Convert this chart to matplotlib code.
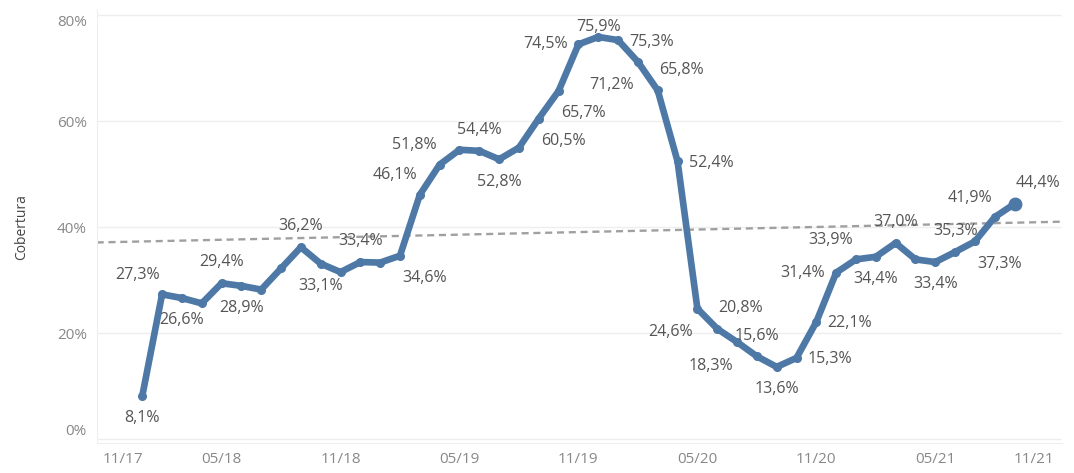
import numpy as np
import matplotlib
matplotlib.use("Agg")
import matplotlib.pyplot as plt

plt.rcParams['font.family'] = ['Open Sans', 'DejaVu Sans']

# monthly coverage, Jan 2018 .. Sep 2021
months = ['01/18', '02/18', '03/18', '04/18', '05/18', '06/18', '07/18', '08/18', '09/18', '10/18', '11/18', '12/18',
          '01/19', '02/19', '03/19', '04/19', '05/19', '06/19', '07/19', '08/19', '09/19', '10/19', '11/19', '12/19',
          '01/20', '02/20', '03/20', '04/20', '05/20', '06/20', '07/20', '08/20', '09/20', '10/20', '11/20', '12/20',
          '01/21', '02/21', '03/21', '04/21', '05/21', '06/21', '07/21', '08/21', '09/21']
cobertura = [8.1, 27.3, 26.6, 25.6, 29.4, 28.9, 28.2, 32.2, 36.2, 33.1, 31.5, 33.4,
             33.3, 34.6, 46.1, 51.8, 54.6, 54.4, 52.8, 55.0, 60.5, 65.7, 74.5, 75.9,
             75.3, 71.2, 65.8, 52.4, 24.6, 20.8, 18.3, 15.6, 13.6, 15.3, 22.1, 31.4,
             33.9, 34.4, 37.0, 33.9, 33.4, 35.3, 37.3, 41.9, 44.4]
tick_labels = ['11/17', '05/18', '11/18', '05/19', '11/19', '05/20', '11/20', '05/21', '11/21']

# where each value label sits ('' = no label)
label_pos = ['b', 'al', 'b', '', 'a', 'b', '', '', 'a', 'b', '', 'a',
             '', 'br', 'al', 'al', '', 'a', 'b', '', 'br', 'br', 'l', 'top',
             'r', 'bl', 'ar', 'r', 'bl', 'ar', 'bl', 'a', 'b', 'r', 'r', 'l',
             'al', 'b', 'a', '', 'b', 'a', 'br', 'al', 'ar']
offsets = {'a': (0, 15), 'b': (0, -16), 'l': (-24, 0), 'r': (24, -1),
           'al': (-18, 14), 'ar': (17, 15), 'bl': (-19, -17), 'br': (18, -16),
           'top': (0, 7)}

x = np.arange(len(cobertura)) + 2   # 0 = Nov 2017
y = np.array(cobertura)

fig = plt.figure(figsize=(10.74, 4.73), dpi=100)
ax = fig.add_axes([0.090, 0.063, 0.899, 0.916])

xlim = (-0.3, 48.4)
ax.set_xlim(*xlim)
ax.set_ylim(-0.8, 81)

# trend line
k, b = np.polyfit(x, y, 1)
tx = np.array(xlim)
ax.plot(tx, k * tx + b, ls=(0, (3, 2)), color='#a0a0a0', lw=1.7, zorder=2)

blue = '#4e79a7'
ax.plot(x, y, color=blue, lw=4.8, solid_joinstyle='round', solid_capstyle='round', zorder=3)
ax.plot(x, y, 'o', color=blue, ms=5.5, zorder=4)
ax.plot(x[-1], y[-1], 'o', color=blue, ms=9, zorder=4)

for xi, yi, p in zip(x, y, label_pos):
    if not p:
        continue
    dx, dy = offsets[p]
    txt = ('%.1f%%' % yi).replace('.', ',')
    ax.annotate(txt, (xi, yi), xytext=(dx, dy), textcoords='offset points',
                ha='center', va='center', fontsize=11.5, color='#555555', zorder=5)

ax.set_xticks(np.arange(0, 49, 6))
ax.set_xticklabels(tick_labels)
xt = ax.get_xticklabels()
xt[0].set_ha('left')
xt[-1].set_ha('right')

ax.set_yticks([0, 20, 40, 60, 80])
ax.set_yticklabels(['0%', '20%', '40%', '60%', '80%'])
yt = ax.get_yticklabels()
yt[0].set_va('bottom')
yt[-1].set_va('top')

ax.tick_params(axis='both', length=0, labelsize=11, labelcolor='#888888')
ax.tick_params(axis='y', pad=7)
ax.tick_params(axis='x', pad=6)
ax.set_ylabel('Cobertura', fontsize=10, color='#444444', labelpad=20)

ax.grid(axis='y', color='#eeeeee', lw=1)
for s in ['top', 'right']:
    ax.spines[s].set_visible(False)
ax.spines['left'].set_color('#eeeeee')
ax.spines['bottom'].set_color('#eeeeee')
ax.set_axisbelow(True)

fig.savefig('out.png', dpi=100)
